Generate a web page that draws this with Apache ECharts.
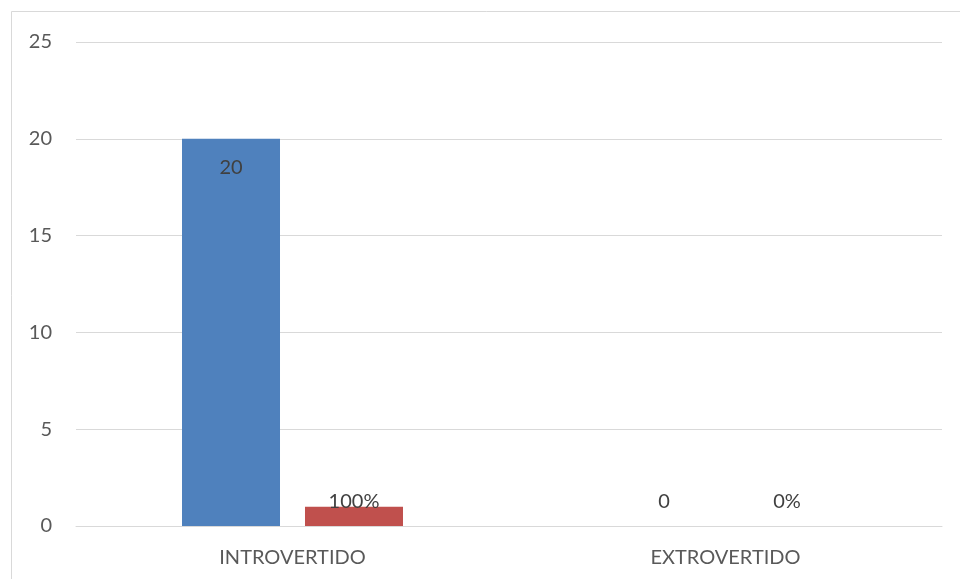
<!DOCTYPE html>
<html>
<head>
<meta charset="utf-8">
<script src="https://cdn.jsdelivr.net/npm/echarts@6/dist/echarts.min.js"></script>
<style>
  html, body { margin: 0; padding: 0; background: #fff; }
  #chart { width: 960px; height: 579px; }
</style>
</head>
<body>
<div id="chart"></div>
<script>
// Personality type counts and their share of the total
const categories = ['INTROVERTIDO', 'EXTROVERTIDO'];
const counts = [20, 0];
const shares = [1, 0];
const shareLabels = ['100%', '0%'];
const yTicks = { min: 0, max: 25, interval: 5 };

const FONT = 'Lato, "Open Sans", sans-serif';
const TEXT = '#404040';
const SIZE = 20;

const chart = echarts.init(document.getElementById('chart'), null, { renderer: 'canvas' });

const countData = counts.map(v => ({
  value: v,
  label: v === 0
    ? { position: 'top', distance: 14 }
    : { position: 'insideTop', distance: 19 }
}));

const shareData = shares.map((v, i) => ({
  value: v,
  label: {
    position: 'top',
    distance: v === 0 ? 14 : -5,
    formatter: shareLabels[i]
  }
}));

chart.setOption({
  animation: false,
  backgroundColor: '#fff',
  graphic: [{
    type: 'rect',
    shape: { x: 11.5, y: 11.5, width: 960, height: 580 },
    style: { fill: 'none', stroke: '#d9d9d9', lineWidth: 1 },
    silent: true
  }],
  grid: { left: 76, right: 18, top: 42, bottom: 53, containLabel: false },
  xAxis: {
    type: 'category',
    data: categories,
    axisLine: { show: true, lineStyle: { color: '#d9d9d9', width: 1 } },
    axisTick: { show: false },
    axisLabel: { color: '#595959', fontFamily: FONT, fontSize: SIZE, margin: 22 }
  },
  yAxis: {
    type: 'value',
    min: yTicks.min,
    max: yTicks.max,
    interval: yTicks.interval,
    axisLine: { show: false },
    axisTick: { show: false },
    splitLine: { lineStyle: { color: '#d9d9d9', width: 1 } },
    axisLabel: { color: '#595959', fontFamily: FONT, fontSize: SIZE, margin: 24 }
  },
  series: [
    {
      type: 'bar',
      data: countData,
      barWidth: 98,
      barGap: '25.5%',
      itemStyle: { color: '#4f81bd' },
      label: { show: true, color: TEXT, fontFamily: FONT, fontSize: SIZE }
    },
    {
      type: 'bar',
      data: shareData,
      barWidth: 98,
      itemStyle: { color: '#c0504d' },
      label: { show: true, color: TEXT, fontFamily: FONT, fontSize: SIZE }
    }
  ]
});
</script>
</body>
</html>
